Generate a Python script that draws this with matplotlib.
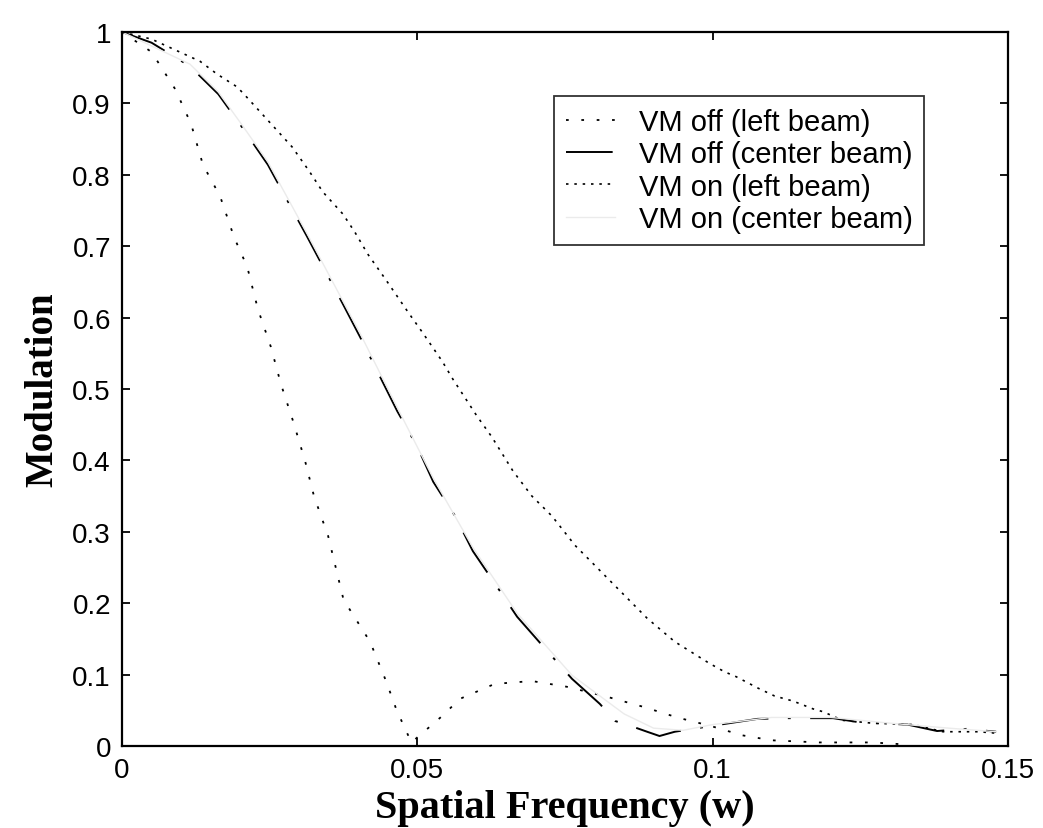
import matplotlib
matplotlib.use('Agg')
import matplotlib.pyplot as plt

# VM off (left beam)
x_off_left = [0, 0.005, 0.009, 0.0117, 0.0137, 0.0166, 0.019, 0.0212, 0.023, 0.0252, 0.0269,
              0.029, 0.031, 0.0325, 0.0349, 0.0375, 0.042, 0.0447, 0.0465, 0.049, 0.0521,
              0.0542, 0.0572, 0.0631, 0.0694, 0.0753, 0.0821, 0.0882, 0.094, 0.0997, 0.105,
              0.11, 0.118, 0.127, 0.133]
y_off_left = [1.0, 0.972, 0.92, 0.871, 0.814, 0.77, 0.712, 0.671, 0.612, 0.559, 0.507,
              0.454, 0.399, 0.35, 0.294, 0.205, 0.146, 0.091, 0.05, 0.005, 0.027,
              0.042, 0.066, 0.087, 0.091, 0.083, 0.069, 0.055, 0.04, 0.028, 0.015,
              0.008, 0.005, 0.005, 0.002]

# VM off (center beam)
x_off_center = [0, 0.005, 0.0115, 0.0163, 0.0203, 0.0247, 0.0276, 0.0313, 0.034, 0.0374,
                0.0403, 0.0437, 0.0466, 0.05, 0.0527, 0.0564, 0.0594, 0.0635, 0.0669, 0.0721,
                0.0762, 0.0809, 0.0835, 0.0865, 0.0889, 0.091, 0.0936, 0.0997, 0.1076, 0.1126,
                0.1204, 0.125, 0.133, 0.138, 0.143, 0.148]
y_off_center = [1.0, 0.985, 0.952, 0.913, 0.867, 0.814, 0.77, 0.714, 0.672, 0.619,
                0.573, 0.517, 0.469, 0.419, 0.37, 0.322, 0.273, 0.223, 0.181, 0.132,
                0.094, 0.059, 0.035, 0.027, 0.02, 0.014, 0.02, 0.028, 0.038, 0.039,
                0.039, 0.033, 0.03, 0.021, 0.024, 0.02]

# VM on (left beam)
x_on_left = [0, 0.005, 0.0132, 0.0161, 0.0195, 0.0212, 0.0288, 0.0317, 0.034, 0.0374, 0.0394,
             0.0416, 0.0445, 0.0484, 0.0508, 0.0542, 0.056, 0.0601, 0.0626, 0.0662, 0.0694,
             0.0728, 0.0767, 0.0889, 0.0936, 0.0967, 0.0994, 0.102, 0.104, 0.1077, 0.1105,
             0.1136, 0.117, 0.1187, 0.122, 0.127, 0.134, 0.139, 0.145, 0.148]
y_on_left = [1.0, 0.99, 0.959, 0.941, 0.923, 0.908, 0.839, 0.805, 0.776, 0.745, 0.72,
             0.689, 0.655, 0.608, 0.58, 0.539, 0.514, 0.462, 0.433, 0.385, 0.35,
             0.322, 0.281, 0.179, 0.146, 0.13, 0.116, 0.104, 0.097, 0.081, 0.07,
             0.063, 0.052, 0.048, 0.036, 0.032, 0.03, 0.02, 0.02, 0.018]

# VM on (center beam)
x_on_center = [0, 0.0115, 0.0163, 0.0203, 0.0247, 0.0276, 0.0313, 0.034, 0.0403, 0.0466,
               0.0527, 0.0594, 0.0669, 0.0762, 0.085, 0.09, 0.095, 0.1, 0.11, 0.12, 0.13,
               0.14, 0.148]
y_on_center = [1.0, 0.955, 0.916, 0.87, 0.818, 0.774, 0.718, 0.676, 0.578, 0.474,
               0.375, 0.278, 0.186, 0.099, 0.045, 0.025, 0.022, 0.03, 0.04, 0.04, 0.032,
               0.025, 0.02]

labels = ['VM off (left beam)', 'VM off (center beam)', 'VM on (left beam)', 'VM on (center beam)']
xticks = [0, 0.05, 0.1, 0.15]
xticklabels = ['0', '0.05', '0.1', '0.15']
yticks = [0, 0.1, 0.2, 0.3, 0.4, 0.5, 0.6, 0.7, 0.8, 0.9, 1.0]
yticklabels = ['0', '0.1', '0.2', '0.3', '0.4', '0.5', '0.6', '0.7', '0.8', '0.9', '1']

plt.rcParams['font.family'] = ['Liberation Sans', 'DejaVu Sans']

fig = plt.figure(figsize=(10.43, 8.29), dpi=100)
ax = fig.add_axes([0.117, 0.0989, 0.8494, 0.8613])

ax.plot(x_off_left, y_off_left, color='black', lw=1.3, linestyle=(0, (1.5, 7)), label=labels[0])
ax.plot(x_off_center, y_off_center, color='black', lw=1.4, linestyle=(0, (24, 10, 1.5, 10)), label=labels[1])
ax.plot(x_on_left, y_on_left, color='black', lw=1.2, linestyle=(0, (1.5, 3.5)), label=labels[2])
ax.plot(x_on_center, y_on_center, color='0.92', lw=1.0, linestyle='-', label=labels[3])

ax.set_xlim(0, 0.15)
ax.set_ylim(0, 1)
ax.set_xticks(xticks)
ax.set_xticklabels(xticklabels)
ax.set_yticks(yticks)
ax.set_yticklabels(yticklabels)
ax.tick_params(direction='in', length=6, width=1.3, top=True, right=True,
               labelsize=20, pad=8, colors='black')
for s in ax.spines.values():
    s.set_linewidth(1.6)

ax.set_xlabel('Spatial Frequency (w)', family='Liberation Serif', fontweight='bold',
              fontsize=29, labelpad=4)
ax.set_ylabel('Modulation', family='Liberation Serif', fontweight='bold',
              fontsize=28, labelpad=8)

leg = ax.legend(loc='upper left', bbox_to_anchor=(0.4876, 0.91), borderaxespad=0,
                fontsize=21, frameon=True, fancybox=False, edgecolor='black',
                handlelength=1.7, handletextpad=0.8, labelspacing=0.15,
                borderpad=0.4)
leg.get_frame().set_linewidth(1.3)

fig.savefig('out.png', dpi=100)
